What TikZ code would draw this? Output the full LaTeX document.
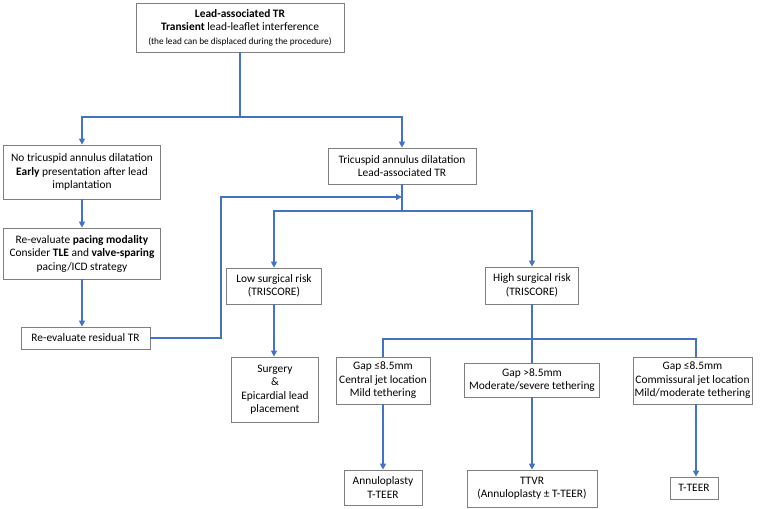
\documentclass[tikz,border=0pt]{standalone}
\usepackage{fontspec}
\setmainfont{Carlito}
\usepackage{tikz}
\usetikzlibrary{arrows.meta}

\definecolor{linkblue}{HTML}{4472C4}
\definecolor{boxgray}{HTML}{7F7F7F}

\begin{document}
\begin{tikzpicture}[x=1pt, y=-1pt,
        box/.style={draw=boxgray, line width=0.8pt, fill=white, inner sep=0pt, align=center,
            font=\fontsize{11.4}{13.5}\selectfont},
        link/.style={draw=linkblue, line width=1.6pt},
        arrow/.style={link, -{Triangle[length=6pt, width=6pt]}}]
        % fix the page
        \useasboundingbox (0,0) rectangle (761,509);

        % the boxes
        \node[box, minimum width=208pt, minimum height=49pt] (lead) at (240,27.5)
            {\textbf{Lead-associated TR}\\ \textbf{Transient} lead-leaflet interference\\
             {\fontsize{9.3}{11.5}\selectfont (the lead can be displaced during the procedure)}};

        \node[box, minimum width=157pt, minimum height=54pt] (nodil) at (82,172)
            {No tricuspid annulus dilatation\\ \textbf{Early} presentation after lead\\ implantation};
        \node[box, minimum width=157pt, minimum height=51pt] (pacing) at (82,253.5)
            {Re-evaluate \textbf{pacing modality}\\ Consider \textbf{TLE} and \textbf{valve-sparing}\\ pacing/ICD strategy};
        \node[box, minimum width=129pt, minimum height=22pt] (resid) at (85.5,338)
            {Re-evaluate residual TR};

        \node[box, minimum width=148pt, minimum height=36pt] (dil) at (402,166)
            {Tricuspid annulus dilatation\\ Lead-associated TR};
        \node[box, minimum width=95pt, minimum height=36pt] (low) at (274,286)
            {Low surgical risk\\ (TRISCORE)};
        \node[box, minimum width=87pt, minimum height=65pt] (surg) at (275,389.5)
            {Surgery\\ \&\\ Epicardial lead\\ placement};
        \node[box, minimum width=93pt, minimum height=37pt] (high) at (532,285.5)
            {High surgical risk\\ (TRISCORE)};

        \node[box, minimum width=94pt, minimum height=47pt] (gapa) at (383,380.5)
            {Gap ≤8.5mm\\ Central jet location\\ Mild tethering};
        \node[box, minimum width=135pt, minimum height=34pt] (gapb) at (532,380)
            {Gap >8.5mm\\ Moderate/severe tethering};
        \node[box, minimum width=119pt, minimum height=47pt] (gapc) at (692.5,380.5)
            {Gap ≤8.5mm\\ Commissural jet location\\ Mild/moderate tethering};

        \node[box, minimum width=78pt, minimum height=35pt] (annu) at (383,487.5)
            {Annuloplasty\\ T-TEER};
        \node[box, minimum width=130pt, minimum height=37pt] (ttvr) at (532,488.5)
            {TTVR\\ (Annuloplasty ± T-TEER)};
        \node[box, minimum width=48pt, minimum height=22pt] (tteer) at (694,488)
            {T-TEER};

        % branch points
        \coordinate (splitA) at (240,117);
        \coordinate (splitB) at (402,211);
        \coordinate (splitC) at (532,339);
        \coordinate (back) at (221,197);

        % first split
        \draw[link] (lead.south) -- (splitA);
        \draw[arrow] (splitA) -| (nodil);
        \draw[arrow] (splitA) -| (dil);

        % left column
        \draw[arrow] (nodil) -- (pacing);
        \draw[arrow] (pacing) -- (resid.north -| pacing);
        \draw[arrow] (resid.east) -| (back) -- (dil.south |- back);

        % surgical risk
        \draw[link] (dil.south) -- (splitB);
        \draw[arrow] (splitB) -| (low);
        \draw[arrow] (splitB) -| (high);
        \draw[arrow] (low) -- (low |- surg.north);

        % anatomy
        \draw[link] (high.south) -- (splitC);
        \draw[link] (splitC) -| (gapa);
        \draw[link] (splitC) -- (gapb);
        \draw[link] (splitC) -| (gapc.north -| 696,0);
        \draw[arrow] (gapa) -- (annu);
        \draw[arrow] (gapb) -- (ttvr);
        \draw[arrow] (gapc.south -| 696,0) -- (tteer.north -| 696,0);
\end{tikzpicture}
\end{document}
